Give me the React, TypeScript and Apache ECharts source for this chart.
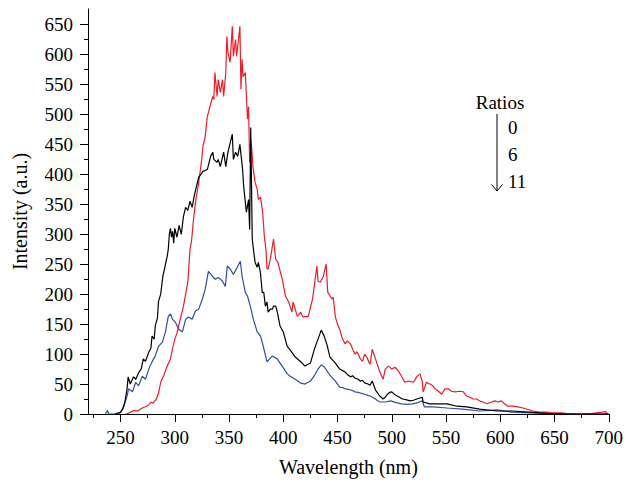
import React, { useEffect, useRef } from 'react';
import * as echarts from 'echarts';

// Emission spectra, [wavelength (nm), intensity (a.u.)]
const ratio0Spectrum: [number, number][] = [
  [255, 0], [257, 1], [260, 4], [263, 6], [266, 5], [268, 8], [270, 10], [273, 12], [276, 15], [278, 20],
  [280, 18], [283, 25], [285, 35], [287, 53], [290, 65], [293, 80], [296, 92], [298, 110], [300, 125], [302, 135],
  [305, 158], [308, 180], [310, 200], [312, 220], [314, 275], [315.5, 290], [317, 320], [318.5, 345], [320, 365],
  [321.5, 380], [323, 400], [324.5, 420], [326, 447], [328, 463], [330, 497], [331, 503], [333, 517], [335, 530],
  [336, 525], [337, 570], [339, 530], [340, 558], [342, 537], [344, 558], [345, 530], [347, 570], [348, 630],
  [349, 603], [351, 587], [353, 647], [354, 597], [356, 625], [357, 597], [359, 630], [360, 647], [361, 542],
  [362, 592], [363, 563], [365, 570], [367, 492], [368, 513], [369, 420], [370, 458], [371, 442], [372, 413],
  [374, 387], [376, 375], [377, 358], [379, 362], [381, 337], [382.5, 297], [384, 275], [385, 242], [386, 242],
  [388, 258], [391, 292], [393, 258], [395, 253], [399, 225], [402, 197], [405, 187], [408, 170], [409, 187],
  [413, 163], [416, 170], [418, 162], [423, 163], [427, 192], [429, 220], [431, 247], [432, 222], [434, 220],
  [437, 230], [439.5, 250], [441, 203], [445, 192], [446, 195], [448, 162], [450, 150], [452, 142], [454, 128],
  [457, 117], [459, 122], [462, 117], [464, 108], [466, 100], [468, 104], [471, 92], [473, 88], [475, 100],
  [477, 95], [479, 86], [480, 83], [482, 108], [485, 92], [489, 70], [492, 58], [494, 75], [497, 80],
  [500, 75], [503, 78], [506, 72], [509, 63], [512, 53], [515, 55], [520, 53], [523, 62], [526, 67], [528, 55],
  [529, 37], [532, 53], [535, 50], [538, 47], [540, 42], [543, 38], [546, 33], [549, 42], [552, 42], [555, 38],
  [558, 37], [563, 38], [566, 37], [569, 30], [572, 28], [575, 25], [578, 25], [581, 22], [584, 20], [588, 17],
  [592, 20], [595, 22], [598, 20], [601, 22], [604, 17], [607, 13], [612, 13], [616, 12], [621, 10], [625, 8],
  [630, 5], [636, 3], [643, 3], [648, 2], [655, 2], [661, 1], [673, 0], [685, 1], [694, 3], [697, 4], [699, 0],
];

const ratio6Spectrum: [number, number][] = [
  [245, 0], [248, 2], [250, 3], [252, 8], [254, 20], [256, 42], [257, 62], [259, 50], [262, 62], [264, 58],
  [267, 70], [269, 75], [271, 92], [273, 88], [276, 103], [278, 110], [279, 130], [281, 125], [282, 147],
  [284, 160], [285, 188], [287, 200], [289, 230], [290.5, 242], [292, 255], [293, 263], [294, 275], [295, 300],
  [296, 310], [297, 295], [298, 305], [299, 285], [300, 310], [302, 295], [304, 315], [306, 300], [308, 330],
  [310, 345], [312, 340], [314, 355], [316, 345], [318, 365], [320, 380], [322, 395], [324, 400], [326, 405],
  [330, 408], [333, 430], [335, 437], [336, 425], [339, 420], [340, 425], [342, 413], [345, 437], [347, 413],
  [349, 437], [353, 467], [354, 425], [356, 437], [358, 430], [360, 450], [361.5, 425], [362.5, 408], [363.5, 380],
  [366, 337], [368, 358], [369, 308], [370, 478], [371.4, 292], [372.5, 275], [374, 253], [376, 245], [377, 253],
  [379, 235], [380.6, 203], [382, 203], [383.5, 180], [385, 187], [386, 170], [388, 175], [390, 175], [391, 180],
  [393, 180], [394.5, 170], [397, 147], [400, 137], [403.6, 113], [406, 108], [411, 95], [415.6, 88], [420, 80],
  [425, 85], [429, 110], [432, 125], [435, 140], [437.7, 130], [440.4, 115], [443, 95], [448, 85], [450, 80],
  [452, 75], [455, 72], [457, 70], [459, 66], [462, 62], [464, 64], [466, 60], [469, 58], [471, 55], [473, 56],
  [475, 52], [478, 50], [480, 48], [482, 55], [485, 40], [487, 35], [489, 30], [492, 25], [494, 28], [496, 33],
  [498, 36], [500, 37], [503, 32], [505, 30], [507, 28], [510, 25], [513, 24], [517, 22], [520, 23], [523, 25],
  [528, 28], [529, 20], [535, 17], [542, 17], [551, 17], [560, 13], [569, 12], [581, 8], [597, 5], [611, 5],
  [627, 3], [643, 1], [661, 0], [680, 0], [700, 0],
];

const ratio11Spectrum: [number, number][] = [
  [236, 0], [238, 6], [239, 0], [248, 0], [250, 3], [253, 13], [256, 30], [257.4, 42], [261, 37], [264, 53],
  [266.6, 47], [270, 63], [273, 58], [276, 75], [279, 87], [282, 97], [285, 113], [288.6, 120], [291.4, 137],
  [294, 163], [296, 167], [298, 158], [300.6, 153], [303.4, 142], [307, 137], [310, 158], [312.6, 162], [316, 158],
  [319, 172], [322, 175], [325.4, 192], [328, 208], [331, 238], [334.6, 230], [337.4, 225], [340, 228],
  [343.8, 222], [346.6, 213], [348.4, 247], [351, 242], [354, 233], [357.6, 245], [360.4, 255], [362, 230],
  [365, 203], [367, 197], [369.6, 180], [372.4, 158], [376, 137], [379, 130], [381.6, 113], [385, 87], [390, 97],
  [394.4, 92], [399, 80], [403.6, 67], [406.4, 63], [411, 58], [415.6, 52], [420, 50], [425, 55], [429, 65],
  [432, 75], [435, 82], [438, 78], [443, 65], [448, 55], [450, 50], [452, 45], [455, 44], [457, 42], [460, 41],
  [462, 40], [464, 39], [466, 37], [469, 36], [471, 35], [473, 34], [475, 33], [478, 31], [480, 30], [483, 27],
  [485, 25], [487, 22], [489, 20], [494, 20], [499, 22], [504, 19], [509, 17], [514, 16], [519, 17], [524, 19],
  [528, 22], [530, 12], [538, 12], [551, 10], [565, 8], [581, 5], [597, 7], [611, 3], [627, 2], [643, 1],
  [673, 0], [700, 0],
];

const xMajorTicks = [250, 300, 350, 400, 450, 500, 550, 600, 650, 700];
const xMinorTicks = [225, 275, 325, 375, 425, 475, 525, 575, 625, 675];
const yMajorTicks = [0, 50, 100, 150, 200, 250, 300, 350, 400, 450, 500, 550, 600, 650];
const yMinorTicks = [25, 75, 125, 175, 225, 275, 325, 375, 425, 475, 525, 575, 625];
const ratioLabels = ['0', '6', '11'];
const legendTitle = 'Ratios';

const FONT = '"Liberation Serif", "DejaVu Serif", serif';

export default function App() {
  const ref = useRef<HTMLDivElement>(null);

  useEffect(() => {
    if (!ref.current) return;
    const chart = echarts.init(ref.current, undefined, { renderer: 'svg' });
    const xMin = 220;
    const xMax = 700;
    const yMin = 0;
    const yMax = 676;
    const textStyle = { color: '#000', fontFamily: FONT, fontSize: 19 };
    const nameStyle = { color: '#000', fontFamily: FONT, fontSize: 20 };

    chart.setOption({
      animation: false,
      backgroundColor: '#fff',
      grid: { left: 88, right: 17, top: 9, bottom: 67, containLabel: false },
      xAxis: [
        {
          type: 'value', min: xMin, max: xMax, position: 'bottom',
          axisLine: { show: true, onZero: false, lineStyle: { color: '#000', width: 1 } },
          axisTick: { show: true, customValues: xMajorTicks, length: 8, lineStyle: { color: '#000', width: 1 } },
          axisLabel: { show: true, customValues: xMajorTicks, margin: 14, ...textStyle },
          splitLine: { show: false },
          name: 'Wavelength (nm)', nameLocation: 'middle', nameGap: 43,
          nameTextStyle: { ...nameStyle },
        },
        {
          type: 'value', min: xMin, max: xMax, position: 'bottom',
          axisLine: { show: false, onZero: false },
          axisTick: { show: true, customValues: xMinorTicks, length: 4, lineStyle: { color: '#000', width: 1 } },
          axisLabel: { show: false },
          splitLine: { show: false },
        },
      ],
      yAxis: [
        {
          type: 'value', min: yMin, max: yMax, position: 'left',
          axisLine: { show: true, onZero: false, lineStyle: { color: '#000', width: 1 } },
          axisTick: { show: true, customValues: yMajorTicks, length: 8, lineStyle: { color: '#000', width: 1 } },
          axisLabel: { show: true, customValues: yMajorTicks, margin: 15, ...textStyle },
          splitLine: { show: false },
          name: 'Intensity (a.u.)', nameLocation: 'middle', nameGap: 58,
          nameTextStyle: { ...nameStyle },
        },
        {
          type: 'value', min: yMin, max: yMax, position: 'left',
          axisLine: { show: false, onZero: false },
          axisTick: { show: true, customValues: yMinorTicks, length: 4, lineStyle: { color: '#000', width: 1 } },
          axisLabel: { show: false },
          splitLine: { show: false },
        },
      ],
      series: [
        {
          name: '11', type: 'line', data: ratio11Spectrum, xAxisIndex: 0, yAxisIndex: 0,
          showSymbol: false, symbol: 'none', silent: true,
          lineStyle: { color: '#2c4ea3', width: 1.2 },
        },
        {
          name: '0', type: 'line', data: ratio0Spectrum, xAxisIndex: 0, yAxisIndex: 0,
          showSymbol: false, symbol: 'none', silent: true,
          lineStyle: { color: '#ee1c25', width: 1.2 },
        },
        {
          name: '6', type: 'line', data: ratio6Spectrum, xAxisIndex: 0, yAxisIndex: 0,
          showSymbol: false, symbol: 'none', silent: true,
          lineStyle: { color: '#000000', width: 1.2 },
        },
      ],
      graphic: [
        {
          type: 'text', x: 500, y: 102,
          style: { text: legendTitle, font: `19px ${FONT}`, fill: '#000', textAlign: 'center', textVerticalAlign: 'middle' },
        },
        {
          type: 'line', shape: { x1: 497, y1: 114, x2: 497, y2: 191 },
          style: { stroke: '#000', lineWidth: 1 },
        },
        {
          type: 'polyline', shape: { points: [[491.5, 184.5], [497, 191], [502.5, 184.5]] },
          style: { stroke: '#000', lineWidth: 1, fill: 'none' },
        },
        ...ratioLabels.map((t, i) => ({
          type: 'text', x: 508, y: [127, 154, 181][i],
          style: { text: t, font: `19px ${FONT}`, fill: '#000', textAlign: 'left', textVerticalAlign: 'middle' },
        })),
      ],
    });
    return () => chart.dispose();
  }, []);

  return (
    <div
      ref={ref}
      style={{ position: 'fixed', left: 0, top: 0, width: 626, height: 482, background: '#fff' }}
    />
  );
}
